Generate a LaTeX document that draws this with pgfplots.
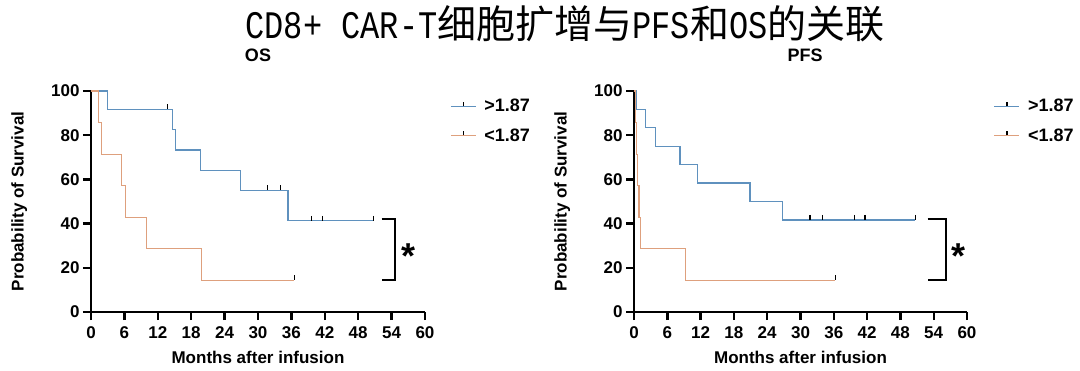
\documentclass[border=0pt]{standalone}
\usepackage{pgfplots}
\pgfplotsset{compat=1.18}
\usepackage{fontspec}
\setmainfont{Liberation Sans}
\newfontfamily\cjk{Noto Sans CJK SC}
\newfontfamily\titlelat{Liberation Mono}[FakeStretch=0.82]
\definecolor{kmblue}{RGB}{95,145,190}
\definecolor{kmorange}{RGB}{222,160,125}
\newcommand{\lf}{\fontsize{17}{20}\selectfont\bfseries}
\pgfplotsset{
  kmstyle/.style={
    scale only axis, width=334pt, height=221pt,
    xmin=0, xmax=60, ymin=0, ymax=100,
    axis x line*=bottom, axis y line*=left,
    axis line style={-, line width=2.4pt, black},
    xtick={0,6,...,60}, ytick={0,20,...,100},
    tick align=outside, major tick length=8pt,
    major tick style={line width=2.4pt, black},
    /pgf/number format/assume math mode=true,
    ticklabel style={font=\lf},
    xticklabel={\lf\pgfmathprintnumber{\tick}},
    yticklabel={\lf\pgfmathprintnumber{\tick}},
    xticklabel style={font=\lf, yshift=-3pt},
    yticklabel style={font=\lf},
    label style={font=\lf},
    xlabel={Months after infusion},
    ylabel={Probability of Survival},
    xlabel style={yshift=-6pt},
    ylabel style={yshift=17pt},
    clip=false,
    legend cell align=left,
    legend style={draw=none, fill=none, font=\fontsize{18}{20}\selectfont\bfseries,
      inner sep=0pt, anchor=north west, row sep=11pt,
      nodes={inner xsep=8pt}},
    legend image code/.code={
      \draw[##1, line width=1.2pt] (0pt,0pt) -- (25pt,0pt);
      \draw[black, line width=1.3pt] (12.5pt,0pt) -- (12.5pt,4pt);
    },
  },
  km/.style={const plot, line width=1.2pt, #1, no marks},
  cens/.style={only marks, mark=|, mark size=2.5pt, forget plot,
    mark options={black, line width=1.3pt, yshift=2.5pt}},
}
\begin{document}
\begin{tikzpicture}[x=1pt,y=1pt]
\useasboundingbox (0,0) rectangle (1080,370);
\node[font={\fontsize{39}{42}\selectfont}, inner sep=0pt] at (565,346)
  {\titlelat CD8+ CAR-T\cjk 细胞扩增与\titlelat PFS\cjk 和\titlelat OS\cjk 的关联};
\node[font={\fontsize{18}{20}\selectfont\bfseries}] at (258,315) {OS};
\node[font={\fontsize{18}{20}\selectfont\bfseries}] at (805,315) {PFS};

% ---------- OS ----------
\begin{axis}[kmstyle, at={(91pt,58pt)}, anchor=origin,
  legend style={at={(rel axis cs:1.075,0.972)}}]
\addplot[km=kmblue] coordinates {(0,100) (3.0,91.67) (14.7,82.5) (15.2,73.33) (19.6,64.17) (26.8,55.0) (35.4,41.25) (50.7,41.25)};
\addlegendentry{>1.87}
\addplot[km=kmorange] coordinates {(0,100) (1.3,85.71) (1.9,71.43) (5.5,57.14) (6.2,42.86) (10.0,28.57) (19.8,14.29) (36.5,14.29)};
\addlegendentry{<1.87}
\addplot[cens] coordinates {(13.8,91.67) (31.7,55) (34.1,55) (39.6,41.25) (41.6,41.25) (50.7,41.25)};
\addplot[cens] coordinates {(36.5,14.29)};
\draw[black, line width=2.4pt] (axis cs:52.2,42) -- (axis cs:54.6,42) -- (axis cs:54.6,14.5) -- (axis cs:52.2,14.5);
\node[font={\fontsize{36}{36}\selectfont\bfseries}] at (axis cs:57.0,25.5) {*};
\end{axis}

% ---------- PFS ----------
\begin{axis}[kmstyle, at={(634pt,58pt)}, anchor=origin, width=333pt,
  legend style={at={(rel axis cs:1.08,0.972)}}]
\addplot[km=kmblue] coordinates {(0,100) (0.5,91.67) (2.0,83.33) (3.9,75) (8.3,66.67) (11.5,58.33) (20.9,50) (26.8,41.67) (50.7,41.67)};
\addlegendentry{>1.87}
\addplot[km=kmorange] coordinates {(0,100) (0.3,85.71) (0.5,71.43) (0.7,57.14) (0.9,42.86) (1.2,28.57) (9.3,14.29) (36.3,14.29)};
\addlegendentry{<1.87}
\addplot[cens] coordinates {(31.7,41.67) (34.0,41.67) (39.7,41.67) (41.6,41.67) (50.7,41.67)};
\addplot[cens] coordinates {(36.3,14.29)};
\draw[black, line width=2.4pt] (axis cs:52.9,42) -- (axis cs:56.2,42) -- (axis cs:56.2,14.5) -- (axis cs:52.9,14.5);
\node[font={\fontsize{36}{36}\selectfont\bfseries}] at (axis cs:58.5,25.5) {*};
\end{axis}
\end{tikzpicture}
\end{document}
